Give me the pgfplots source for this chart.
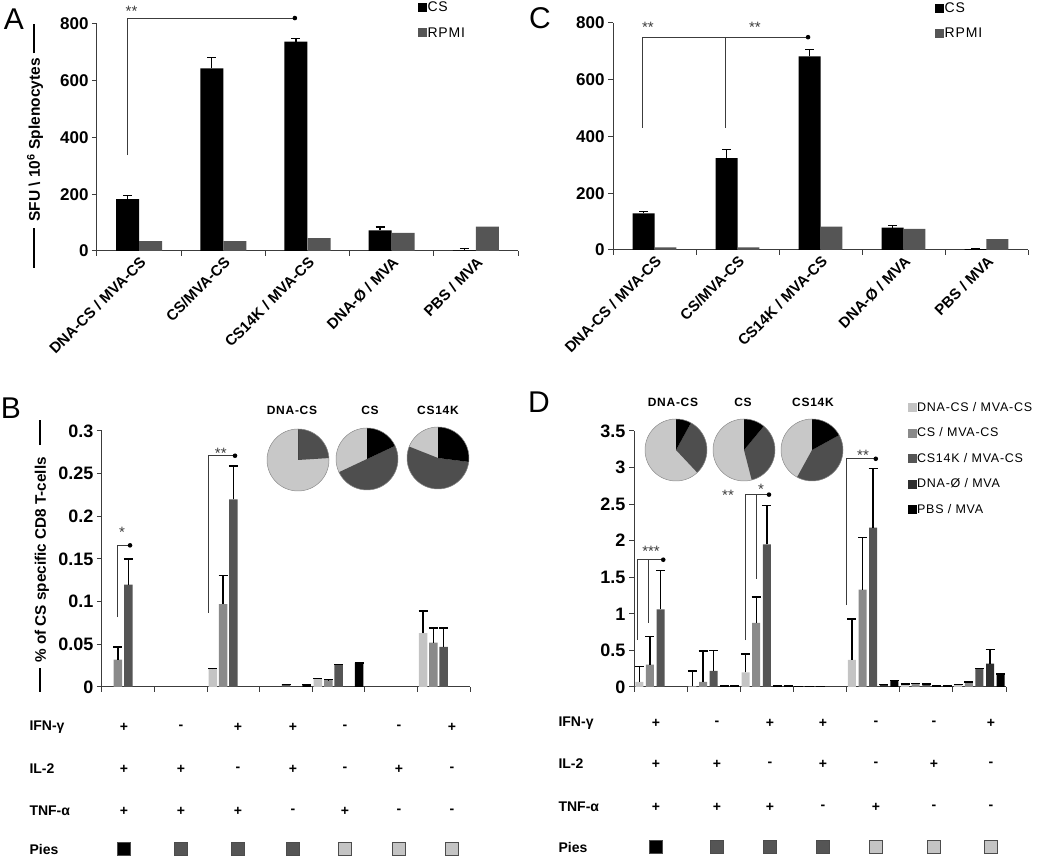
\documentclass[border=0pt]{standalone}
\usepackage{fontspec}
\setmainfont{Liberation Sans}
\newfontfamily\spaced{Liberation Sans}[LetterSpace=6]
\usepackage{pgfplots}
\pgfplotsset{compat=1.18}
\usepackage{pgfplotstable}

\definecolor{lightc}{HTML}{C4C4C4}
\definecolor{midc}{HTML}{8A8A8A}
\definecolor{darkc}{HTML}{555555}
\definecolor{darkerc}{HTML}{2F2F2F}
\definecolor{axc}{HTML}{3C3C3C}
\definecolor{pielight}{HTML}{C8C8C8}
\definecolor{piedark}{HTML}{4E4E4E}
\newcommand{\fs}[1]{\fontsize{#1}{#1}\selectfont}

% ---------- Panel A (x = category centre -/+ half a bar) ----------
\pgfplotstableread{
x y e
0.363 183 13
1.363 644 37
2.363 738 11
3.363 73 12
4.363 2 6
}\Acs
\pgfplotstableread{
x y
0.637 35
1.637 35
2.637 45
3.637 64
4.637 86
}\Arpmi
% ---------- Panel C ----------
\pgfplotstableread{
x y e
0.368 129 6
1.368 324 31
2.368 682 24
3.368 79 8
4.368 3 1
}\Ccs
\pgfplotstableread{
x y
0.632 9
1.632 9
2.632 82
3.632 74
4.632 38
}\Crpmi
% ---------- Panel B ----------
\pgfplotstableread{
x y e
2.108 0.021 0.001
4.108 0.0095 0.0005
6.108 0.063 0.026
}\Bone
\pgfplotstableread{
x y e
0.304 0.032 0.015
2.304 0.097 0.034
4.304 0.008 0.0005
6.304 0.052 0.017
}\Btwo
\pgfplotstableread{
x y e
0.5 0.12 0.03
2.5 0.22 0.039
3.5 0.003 0
4.5 0.026 0.0005
6.5 0.047 0.022
}\Bthree
\pgfplotstableread{
x y e
3.892 0.003 0
4.892 0.028 0
}\Bfive
% ---------- Panel D ----------
\pgfplotstableread{
x y e
0.1 0.07 0.21
1.1 0.01 0.21
2.1 0.2 0.25
3.1 0.01 0
4.1 0.37 0.56
5.1 0.04 0
6.1 0.035 0
}\Done
\pgfplotstableread{
x y e
0.3 0.305 0.385
1.3 0.07 0.42
2.3 0.875 0.355
3.3 0.01 0
4.3 1.33 0.71
5.3 0.05 0
6.3 0.07 0
}\Dtwo
\pgfplotstableread{
x y e
0.5 1.06 0.53
1.5 0.22 0.28
2.5 1.95 0.53
3.5 0.01 0
4.5 2.18 0.81
5.5 0.04 0
6.5 0.25 0
}\Dthree
\pgfplotstableread{
x y e
1.7 0.012 0
2.7 0.012 0
4.7 0.035 0
5.7 0.015 0
6.7 0.32 0.19
}\Dfour
\pgfplotstableread{
x y e
1.9 0.012 0
2.9 0.012 0
4.9 0.09 0
5.9 0.015 0
6.9 0.18 0
}\Dfive

\pgfplotsset{
  panel/.style={scale only axis, anchor=south west, clip=false,
    axis lines*=left, axis line style={axc, line width=1pt},
    tick align=outside, major tick length=5pt, tick style={axc, line width=1pt},
    /pgf/number format/assume math mode=true,
    /pgf/number format/fixed, /pgf/number format/precision=2,
    xticklabels={},
    legend cell align=left,
    legend image code/.code={\fill[##1] (0pt,-4.5pt) rectangle (9pt,4.5pt);},
  },
  errb/.style={error bars/y dir=plus, error bars/y explicit,
    error bars/error bar style={line width=1.4pt, black},
    error bars/error mark options={rotate=90, line width=1.4pt, black, mark size=4.5pt}},
  rotlabels/.style={
    xtick={0,1,2,3,4,5},
    extra x ticks={0.5,1.5,2.5,3.5,4.5},
    extra x tick labels={DNA-CS / MVA-CS,CS/MVA-CS,CS14K / MVA-CS,DNA-Ø / MVA,PBS / MVA},
    extra x tick style={major tick length=0pt, tick label style={rotate=45, anchor=north east, font=\bfseries\fs{15}}},
  },
}

\newcommand{\piechart}[4]{%
  \pgfmathsetmacro\aA{90-3.6*#3}%
  \pgfmathsetmacro\aB{\aA-3.6*#4}%
  \fill[pielight] (#1pt,#2pt) circle[radius=31pt];
  \fill[piedark] (#1pt,#2pt) -- ++(\aA:31pt) arc[start angle=\aA, end angle=\aB, radius=31pt] -- cycle;
  \fill[black] (#1pt,#2pt) -- ++(90:31pt) arc[start angle=90, end angle=\aA, radius=31pt] -- cycle;
  \draw[black!45, line width=0.5pt] (#1pt,#2pt) circle[radius=31pt];
}

\begin{document}
\begin{tikzpicture}
\path[use as bounding box] (0pt,0pt) rectangle (1050pt,859pt);

% ================= A =================
\begin{axis}[panel, rotlabels, at={(97pt,608pt)}, width=421pt, height=227pt,
  xmin=0, xmax=5, ymin=0, ymax=800, ytick={0,200,400,600,800},
  yticklabel style={font=\bfseries\fs{17}},
  ylabel={\rule[0.33em]{40pt}{1.6pt}\hspace{6pt}SFU \textbackslash\ 10\textsuperscript{6} Splenocytes\hspace{5pt}\rule[0.33em]{29pt}{1.6pt}},
  ylabel style={at={(axis description cs:-0.147,0.4626)}, anchor=center, font=\bfseries\fs{15.5}},
  legend style={at={(axis description cs:0.762,1.106)}, anchor=north west, draw=none, fill=none, font=\spaced\fs{14}, row sep=10pt, inner sep=0pt, nodes={inner xsep=0.5pt}},
]
\addplot[ybar, bar width=23pt, bar shift=0pt, fill=black, draw=none, errb] table[x=x,y=y,y error=e] {\Acs};
\addlegendentry{CS}
\addplot[ybar, bar width=23pt, bar shift=0pt, fill=darkc, draw=none] table[x=x,y=y] {\Arpmi};
\addlegendentry{RPMI}
\draw[axc, line width=0.9pt] (axis cs:0.356,338) |- (axis cs:2.35,821);
\fill[black] (axis cs:2.35,821) circle[radius=2.3pt];
\node[font=\fs{15}, text=axc] at (axis cs:0.41,846) {**};
\end{axis}

% ================= C =================
\begin{axis}[panel, rotlabels, at={(613pt,609pt)}, width=415pt, height=227pt,
  xmin=0, xmax=5, ymin=0, ymax=800, ytick={0,200,400,600,800},
  yticklabel style={font=\bfseries\fs{17}},
  legend style={at={(axis description cs:0.776,1.10)}, anchor=north west, draw=none, fill=none, font=\spaced\fs{14}, row sep=10pt, inner sep=0pt, nodes={inner xsep=0.5pt}},
]
\addplot[ybar, bar width=22pt, bar shift=0pt, fill=black, draw=none, errb] table[x=x,y=y,y error=e] {\Ccs};
\addlegendentry{CS}
\addplot[ybar, bar width=22pt, bar shift=0pt, fill=darkc, draw=none] table[x=x,y=y] {\Crpmi};
\addlegendentry{RPMI}
\draw[axc, line width=0.9pt] (axis cs:0.36,430) |- (axis cs:2.35,750);
\draw[axc, line width=0.9pt] (axis cs:1.36,430) -- (axis cs:1.36,750);
\fill[black] (axis cs:2.35,750) circle[radius=2.3pt];
\node[font=\fs{15}, text=axc] at (axis cs:0.42,783) {**};
\node[font=\fs{15}, text=axc] at (axis cs:1.71,783) {**};
\end{axis}

% ================= B =================
\begin{axis}[panel, at={(102pt,172pt)}, width=368pt, height=256pt,
  xmin=0, xmax=7, ymin=0, ymax=0.3, ytick={0,0.05,0.1,0.15,0.2,0.25,0.3},
  xtick={0,1,2,3,4,5,6,7},
  yticklabel style={font=\bfseries\fs{18}},
  ylabel={\rule[0.33em]{24pt}{1.6pt}\hspace{5pt}\% of CS specific CD8 T-cells\hspace{12pt}\rule[0.33em]{25pt}{1.6pt}},
  ylabel style={at={(axis description cs:-0.163,0.512)}, anchor=center, font=\bfseries\fs{15.3}},
]
\addplot[ybar, bar width=8.5pt, bar shift=0pt, fill=lightc, draw=none, errb] table[x=x,y=y,y error=e] {\Bone};
\addplot[ybar, bar width=8.5pt, bar shift=0pt, fill=midc, draw=none, errb] table[x=x,y=y,y error=e] {\Btwo};
\addplot[ybar, bar width=8.5pt, bar shift=0pt, fill=darkc, draw=none, errb] table[x=x,y=y,y error=e] {\Bthree};
\addplot[ybar, bar width=8.5pt, bar shift=0pt, fill=black, draw=none, errb] table[x=x,y=y,y error=e] {\Bfive};
\draw[axc, line width=0.9pt] (axis cs:0.285,0.082) |- (axis cs:0.533,0.166);
\fill[black] (axis cs:0.533,0.166) circle[radius=2.3pt];
\node[font=\fs{15}, text=axc] at (axis cs:0.38,0.181) {*};
\draw[axc, line width=0.9pt] (axis cs:2.016,0.087) |- (axis cs:2.53,0.271);
\fill[black] (axis cs:2.53,0.271) circle[radius=2.3pt];
\node[font=\fs{15}, text=axc] at (axis cs:2.26,0.274) {**};
\end{axis}

% ================= D =================
\begin{axis}[panel, at={(634pt,172pt)}, width=372pt, height=256pt,
  xmin=0, xmax=7, ymin=0, ymax=3.5, ytick={0,0.5,1,1.5,2,2.5,3,3.5},
  xtick={0,1,2,3,4,5,6,7},
  yticklabel style={font=\bfseries\fs{18}},
  legend style={at={(axis description cs:0.735,1.121)}, anchor=north west, draw=none, fill=none, font=\spaced\fs{12.5}, row sep=11pt, inner sep=0pt, nodes={inner xsep=0.5pt}},
]
\addplot[ybar, bar width=8pt, bar shift=0pt, fill=lightc, draw=none, errb] table[x=x,y=y,y error=e] {\Done};
\addlegendentry{DNA-CS / MVA-CS}
\addplot[ybar, bar width=8pt, bar shift=0pt, fill=midc, draw=none, errb] table[x=x,y=y,y error=e] {\Dtwo};
\addlegendentry{CS / MVA-CS}
\addplot[ybar, bar width=8pt, bar shift=0pt, fill=darkc, draw=none, errb] table[x=x,y=y,y error=e] {\Dthree};
\addlegendentry{CS14K / MVA-CS}
\addplot[ybar, bar width=8pt, bar shift=0pt, fill=darkerc, draw=none, errb] table[x=x,y=y,y error=e] {\Dfour};
\addlegendentry{DNA-Ø / MVA}
\addplot[ybar, bar width=8pt, bar shift=0pt, fill=black, draw=none, errb] table[x=x,y=y,y error=e] {\Dfive};
\addlegendentry{PBS / MVA}
\draw[axc, line width=0.9pt] (axis cs:0.056,0.64) |- (axis cs:0.55,1.74);
\draw[axc, line width=0.9pt] (axis cs:0.28,0.875) -- (axis cs:0.28,1.74);
\fill[black] (axis cs:0.55,1.74) circle[radius=2.3pt];
\node[font=\fs{15}, text=axc] at (axis cs:0.32,1.86) {***};
\draw[axc, line width=0.9pt] (axis cs:2.09,0.64) |- (axis cs:2.54,2.63);
\draw[axc, line width=0.9pt] (axis cs:2.31,1.48) -- (axis cs:2.31,2.63);
\fill[black] (axis cs:2.54,2.63) circle[radius=2.3pt];
\node[font=\fs{15}, text=axc] at (axis cs:1.77,2.62) {**};
\node[font=\fs{15}, text=axc] at (axis cs:2.39,2.70) {*};
\draw[axc, line width=0.9pt] (axis cs:3.99,1.12) |- (axis cs:4.55,3.12);
\fill[black] (axis cs:4.55,3.12) circle[radius=2.3pt];
\node[font=\fs{15}, text=axc] at (axis cs:4.31,3.17) {**};
\end{axis}

% ================= pies =================
\piechart{298}{399}{0}{24}
\piechart{367}{400}{18}{50}
\piechart{438}{401}{27}{54}
\piechart{676}{409}{8}{30}
\piechart{744}{409}{11}{35}
\piechart{812}{409}{17}{41}
\begin{scope}[every node/.style={font=\spaced\bfseries\fs{12}}]
\node at (292pt,449pt) {DNA-CS};
\node at (370pt,449pt) {CS};
\node at (438pt,449pt) {CS14K};
\node at (673pt,457pt) {DNA-CS};
\node at (743pt,457pt) {CS};
\node at (813pt,457pt) {CS14K};
\end{scope}

% ================= panel letters =================
\node[font=\fs{30}] at (14pt,840pt) {A};
\node[font=\fs{30}] at (11pt,451pt) {B};
\node[font=\fs{30}] at (540pt,841pt) {C};
\node[font=\fs{30}] at (539pt,457pt) {D};

% ================= tables =================
\begin{scope}[every node/.style={font=\bfseries\fs{14}}]
\node[anchor=west] at (26pt,132pt) {IFN-γ};
\node[anchor=west] at (26pt,90pt) {IL-2};
\node[anchor=west] at (26pt,48pt) {TNF-α};
\node[anchor=west] at (26pt,10pt) {Pies};
\foreach \x/\a/\b/\c/\col in {124/+/+/+/black,181/-/+/+/darkc,238/+/-/+/darkc,293/+/+/-/darkc,345/-/-/+/lightc,399/-/+/-/lightc,452/+/-/-/lightc}{
  \node at (\x pt,132pt) {\a};
  \node at (\x pt,90pt) {\b};
  \node at (\x pt,48pt) {\c};
  \node[minimum size=13pt, inner sep=0pt, fill=\col, draw=black!70, line width=0.8pt] at (\x pt,10pt) {};
}
\node[anchor=west] at (555pt,136pt) {IFN-γ};
\node[anchor=west] at (555pt,95pt) {IL-2};
\node[anchor=west] at (555pt,52pt) {TNF-α};
\node[anchor=west] at (555pt,12pt) {Pies};
\foreach \x/\a/\b/\c/\col in {656/+/+/+/black,717/-/+/+/darkc,770/+/-/+/darkc,823/+/+/-/darkc,876/-/-/+/lightc,934/-/+/-/lightc,991/+/-/-/lightc}{
  \node at (\x pt,136pt) {\a};
  \node at (\x pt,95pt) {\b};
  \node at (\x pt,52pt) {\c};
  \node[minimum size=13pt, inner sep=0pt, fill=\col, draw=black!70, line width=0.8pt] at (\x pt,12pt) {};
}
\end{scope}
\end{tikzpicture}
\end{document}
